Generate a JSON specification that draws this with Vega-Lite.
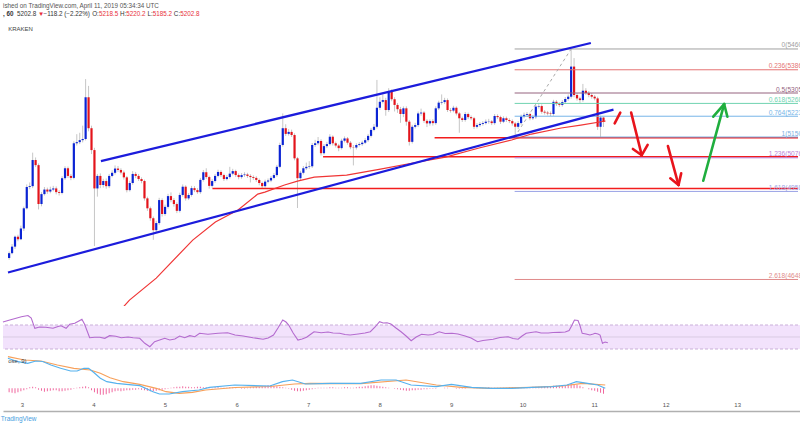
{
"$schema":"https://vega.github.io/schema/vega-lite/v6.json",
"padding":0,
"background":"white",
"config":{"font":"Liberation Sans","view":{"stroke":null}},
"title":{"text":"TradingView","orient":"bottom","anchor":"start","fontSize":6.5,"fontWeight":"normal","color":"#46a0e0","offset":5},
"datasets":{
"candles":[
{"x":18,"o":4724,"h":4747,"l":4718,"c":4741,"d":-8},
{"x":19,"o":4741,"h":4773,"l":4737,"c":4764,"d":-9},
{"x":20,"o":4764,"h":4803,"l":4756,"c":4799,"d":-10},
{"x":21,"o":4799,"h":4806,"l":4783,"c":4790,"d":-8},
{"x":22,"o":4790,"h":4838,"l":4787,"c":4828,"d":-6},
{"x":23,"o":4828,"h":4905,"l":4819,"c":4899,"d":-4},
{"x":24,"o":4899,"h":4983,"l":4895,"c":4974,"d":-2},
{"x":25,"o":4974,"h":4990,"l":4966,"c":4977,"d":2},
{"x":26,"o":4977,"h":5095,"l":4970,"c":5069,"d":3},
{"x":27,"o":5069,"h":5078,"l":5044,"c":5051,"d":2},
{"x":28,"o":5051,"h":5057,"l":4895,"c":4914,"d":-3},
{"x":29,"o":4914,"h":4956,"l":4906,"c":4949,"d":-5},
{"x":30,"o":4949,"h":4974,"l":4944,"c":4965,"d":-7},
{"x":31,"o":4965,"h":4972,"l":4950,"c":4958,"d":-6},
{"x":32,"o":4958,"h":4975,"l":4952,"c":4965,"d":-5},
{"x":33,"o":4965,"h":4978,"l":4959,"c":4969,"d":-4},
{"x":34,"o":4969,"h":4976,"l":4948,"c":4956,"d":-4},
{"x":35,"o":4956,"h":4963,"l":4944,"c":4953,"d":-6},
{"x":36,"o":4953,"h":5012,"l":4948,"c":5005,"d":-6},
{"x":37,"o":5005,"h":5047,"l":4999,"c":5040,"d":-5},
{"x":38,"o":5040,"h":5046,"l":5006,"c":5013,"d":-4},
{"x":39,"o":5013,"h":5020,"l":4998,"c":5006,"d":-3},
{"x":40,"o":5006,"h":5135,"l":5001,"c":5128,"d":-1},
{"x":41,"o":5128,"h":5160,"l":5120,"c":5132,"d":1},
{"x":42,"o":5132,"h":5165,"l":5125,"c":5139,"d":2},
{"x":43,"o":5139,"h":5190,"l":5131,"c":5143,"d":3},
{"x":44,"o":5143,"h":5354,"l":5138,"c":5290,"d":4},
{"x":45,"o":5290,"h":5330,"l":5170,"c":5181,"d":2},
{"x":46,"o":5181,"h":5190,"l":5090,"c":5104,"d":-4},
{"x":47,"o":5104,"h":5112,"l":4766,"c":4969,"d":-8},
{"x":48,"o":4969,"h":5020,"l":4940,"c":5013,"d":-11},
{"x":49,"o":5013,"h":5022,"l":4970,"c":4981,"d":-13},
{"x":50,"o":4981,"h":5003,"l":4972,"c":4995,"d":-13},
{"x":51,"o":4995,"h":5004,"l":4968,"c":4977,"d":-12},
{"x":52,"o":4977,"h":5020,"l":4970,"c":5013,"d":-10},
{"x":53,"o":5013,"h":5033,"l":5008,"c":5024,"d":-8},
{"x":54,"o":5024,"h":5050,"l":5018,"c":5039,"d":-6},
{"x":55,"o":5039,"h":5048,"l":5027,"c":5034,"d":-5},
{"x":56,"o":5034,"h":5040,"l":5018,"c":5025,"d":-6},
{"x":57,"o":5025,"h":5032,"l":5000,"c":5008,"d":-5},
{"x":58,"o":5008,"h":5013,"l":4955,"c":4963,"d":-4},
{"x":59,"o":4963,"h":4996,"l":4958,"c":4988,"d":-4},
{"x":60,"o":4988,"h":5030,"l":4982,"c":5020,"d":-3},
{"x":61,"o":5020,"h":5027,"l":5005,"c":5013,"d":-3},
{"x":62,"o":5013,"h":5020,"l":4995,"c":5002,"d":-2},
{"x":63,"o":5002,"h":5008,"l":4987,"c":4995,"d":-3},
{"x":64,"o":4995,"h":5000,"l":4926,"c":4934,"d":-4},
{"x":65,"o":4934,"h":4940,"l":4890,"c":4899,"d":-5},
{"x":66,"o":4899,"h":4905,"l":4855,"c":4864,"d":-6},
{"x":67,"o":4864,"h":4870,"l":4788,"c":4822,"d":-6},
{"x":68,"o":4822,"h":4855,"l":4812,"c":4847,"d":-5},
{"x":69,"o":4847,"h":4936,"l":4840,"c":4928,"d":-4},
{"x":70,"o":4928,"h":4934,"l":4870,"c":4879,"d":-3},
{"x":71,"o":4879,"h":4912,"l":4873,"c":4904,"d":-2},
{"x":72,"o":4904,"h":4950,"l":4898,"c":4942,"d":-1},
{"x":73,"o":4942,"h":4955,"l":4920,"c":4928,"d":1},
{"x":74,"o":4928,"h":4935,"l":4905,"c":4914,"d":2},
{"x":75,"o":4914,"h":4920,"l":4882,"c":4890,"d":3},
{"x":76,"o":4890,"h":4954,"l":4884,"c":4946,"d":3},
{"x":77,"o":4946,"h":4983,"l":4940,"c":4975,"d":4},
{"x":78,"o":4975,"h":4980,"l":4926,"c":4934,"d":3},
{"x":79,"o":4934,"h":4953,"l":4928,"c":4946,"d":3},
{"x":80,"o":4946,"h":4978,"l":4940,"c":4970,"d":2},
{"x":81,"o":4970,"h":4977,"l":4956,"c":4963,"d":2},
{"x":82,"o":4963,"h":4970,"l":4950,"c":4956,"d":3},
{"x":83,"o":4956,"h":5006,"l":4950,"c":4999,"d":3},
{"x":84,"o":4999,"h":5034,"l":4993,"c":5026,"d":2},
{"x":85,"o":5026,"h":5040,"l":5002,"c":5009,"d":2},
{"x":86,"o":5009,"h":5014,"l":4968,"c":4978,"d":1},
{"x":87,"o":4978,"h":5002,"l":4972,"c":4995,"d":1},
{"x":88,"o":4995,"h":5020,"l":4989,"c":5013,"d":2},
{"x":89,"o":5013,"h":5035,"l":5008,"c":5027,"d":2},
{"x":90,"o":5027,"h":5033,"l":5009,"c":5016,"d":1},
{"x":91,"o":5016,"h":5021,"l":4995,"c":5002,"d":1},
{"x":92,"o":5002,"h":5016,"l":4997,"c":5009,"d":1},
{"x":93,"o":5009,"h":5045,"l":5003,"c":5021,"d":2},
{"x":94,"o":5021,"h":5038,"l":5015,"c":5030,"d":2},
{"x":95,"o":5030,"h":5035,"l":5009,"c":5016,"d":1},
{"x":96,"o":5016,"h":5022,"l":5001,"c":5009,"d":0},
{"x":97,"o":5009,"h":5023,"l":5003,"c":5016,"d":-1},
{"x":98,"o":5016,"h":5026,"l":5010,"c":5018,"d":-1},
{"x":99,"o":5018,"h":5024,"l":5006,"c":5013,"d":1},
{"x":100,"o":5013,"h":5019,"l":4990,"c":5009,"d":2},
{"x":101,"o":5009,"h":5015,"l":4999,"c":5006,"d":2},
{"x":102,"o":5006,"h":5012,"l":4992,"c":4999,"d":3},
{"x":103,"o":4999,"h":5004,"l":4980,"c":4988,"d":3},
{"x":104,"o":4988,"h":4993,"l":4969,"c":4977,"d":4},
{"x":105,"o":4977,"h":5000,"l":4972,"c":4993,"d":5},
{"x":106,"o":4993,"h":5004,"l":4987,"c":4997,"d":6},
{"x":107,"o":4997,"h":5013,"l":4991,"c":5006,"d":6},
{"x":108,"o":5006,"h":5023,"l":5001,"c":5016,"d":5},
{"x":109,"o":5016,"h":5052,"l":5010,"c":5045,"d":4},
{"x":110,"o":5045,"h":5130,"l":5040,"c":5122,"d":3},
{"x":111,"o":5122,"h":5233,"l":5116,"c":5181,"d":2},
{"x":112,"o":5181,"h":5195,"l":5154,"c":5161,"d":1},
{"x":113,"o":5161,"h":5178,"l":5155,"c":5168,"d":-1},
{"x":114,"o":5168,"h":5176,"l":5150,"c":5157,"d":-3},
{"x":115,"o":5157,"h":5163,"l":5068,"c":5075,"d":-5},
{"x":116,"o":5075,"h":5080,"l":4900,"c":5005,"d":-6},
{"x":117,"o":5005,"h":5031,"l":4998,"c":5024,"d":-6},
{"x":118,"o":5024,"h":5048,"l":5018,"c":5040,"d":-5},
{"x":119,"o":5040,"h":5060,"l":5034,"c":5045,"d":-4},
{"x":120,"o":5045,"h":5065,"l":5038,"c":5047,"d":-3},
{"x":121,"o":5047,"h":5129,"l":5041,"c":5122,"d":-2},
{"x":122,"o":5122,"h":5140,"l":5115,"c":5128,"d":-1},
{"x":123,"o":5128,"h":5150,"l":5121,"c":5136,"d":1},
{"x":124,"o":5136,"h":5142,"l":5085,"c":5093,"d":1},
{"x":125,"o":5093,"h":5125,"l":5088,"c":5118,"d":1},
{"x":126,"o":5118,"h":5133,"l":5111,"c":5125,"d":1},
{"x":127,"o":5125,"h":5160,"l":5120,"c":5151,"d":2},
{"x":128,"o":5151,"h":5156,"l":5120,"c":5128,"d":2},
{"x":129,"o":5128,"h":5134,"l":5113,"c":5120,"d":1},
{"x":130,"o":5120,"h":5126,"l":5100,"c":5111,"d":1},
{"x":131,"o":5111,"h":5144,"l":5106,"c":5137,"d":1},
{"x":132,"o":5137,"h":5152,"l":5131,"c":5145,"d":2},
{"x":133,"o":5145,"h":5150,"l":5123,"c":5130,"d":2},
{"x":134,"o":5130,"h":5136,"l":5107,"c":5114,"d":1},
{"x":135,"o":5114,"h":5122,"l":5050,"c":5113,"d":1},
{"x":136,"o":5113,"h":5128,"l":5106,"c":5122,"d":2},
{"x":137,"o":5122,"h":5132,"l":5117,"c":5125,"d":3},
{"x":138,"o":5125,"h":5137,"l":5119,"c":5130,"d":3},
{"x":139,"o":5130,"h":5146,"l":5125,"c":5139,"d":4},
{"x":140,"o":5139,"h":5161,"l":5133,"c":5154,"d":5},
{"x":141,"o":5154,"h":5182,"l":5148,"c":5175,"d":6},
{"x":142,"o":5175,"h":5196,"l":5170,"c":5186,"d":6},
{"x":143,"o":5186,"h":5351,"l":5180,"c":5253,"d":5},
{"x":144,"o":5253,"h":5290,"l":5245,"c":5274,"d":4},
{"x":145,"o":5274,"h":5300,"l":5268,"c":5280,"d":3},
{"x":146,"o":5280,"h":5288,"l":5225,"c":5245,"d":2},
{"x":147,"o":5245,"h":5322,"l":5238,"c":5312,"d":1},
{"x":148,"o":5312,"h":5318,"l":5276,"c":5283,"d":0},
{"x":149,"o":5283,"h":5290,"l":5240,"c":5263,"d":-1},
{"x":150,"o":5263,"h":5270,"l":5235,"c":5248,"d":-2},
{"x":151,"o":5248,"h":5256,"l":5200,"c":5231,"d":-3},
{"x":152,"o":5231,"h":5258,"l":5220,"c":5251,"d":-4},
{"x":153,"o":5251,"h":5258,"l":5190,"c":5204,"d":-5},
{"x":154,"o":5204,"h":5210,"l":5120,"c":5133,"d":-5},
{"x":155,"o":5133,"h":5193,"l":5127,"c":5186,"d":-4},
{"x":156,"o":5186,"h":5200,"l":5180,"c":5192,"d":-4},
{"x":157,"o":5192,"h":5240,"l":5185,"c":5233,"d":-3},
{"x":158,"o":5233,"h":5250,"l":5225,"c":5236,"d":-3},
{"x":159,"o":5236,"h":5241,"l":5200,"c":5207,"d":-2},
{"x":160,"o":5207,"h":5213,"l":5185,"c":5198,"d":-2},
{"x":161,"o":5198,"h":5212,"l":5190,"c":5206,"d":-1},
{"x":162,"o":5206,"h":5213,"l":5190,"c":5199,"d":-1},
{"x":163,"o":5199,"h":5258,"l":5193,"c":5251,"d":-1},
{"x":164,"o":5251,"h":5278,"l":5245,"c":5271,"d":0},
{"x":165,"o":5271,"h":5300,"l":5264,"c":5273,"d":0},
{"x":166,"o":5273,"h":5288,"l":5266,"c":5280,"d":1},
{"x":167,"o":5280,"h":5286,"l":5238,"c":5245,"d":1},
{"x":168,"o":5245,"h":5252,"l":5236,"c":5243,"d":0},
{"x":169,"o":5243,"h":5260,"l":5237,"c":5253,"d":0},
{"x":170,"o":5253,"h":5258,"l":5226,"c":5233,"d":-1},
{"x":171,"o":5233,"h":5238,"l":5165,"c":5216,"d":-1},
{"x":172,"o":5216,"h":5222,"l":5203,"c":5210,"d":-1},
{"x":173,"o":5210,"h":5238,"l":5204,"c":5231,"d":-1},
{"x":174,"o":5231,"h":5236,"l":5213,"c":5220,"d":0},
{"x":175,"o":5220,"h":5226,"l":5209,"c":5216,"d":0},
{"x":176,"o":5216,"h":5221,"l":5178,"c":5186,"d":1},
{"x":177,"o":5186,"h":5199,"l":5180,"c":5192,"d":1},
{"x":178,"o":5192,"h":5203,"l":5186,"c":5196,"d":1},
{"x":179,"o":5196,"h":5206,"l":5190,"c":5199,"d":1},
{"x":180,"o":5199,"h":5212,"l":5194,"c":5204,"d":1},
{"x":181,"o":5204,"h":5214,"l":5197,"c":5205,"d":2},
{"x":182,"o":5205,"h":5210,"l":5192,"c":5199,"d":1},
{"x":183,"o":5199,"h":5231,"l":5193,"c":5224,"d":1},
{"x":184,"o":5224,"h":5230,"l":5213,"c":5220,"d":1},
{"x":185,"o":5220,"h":5225,"l":5196,"c":5204,"d":1},
{"x":186,"o":5204,"h":5223,"l":5199,"c":5216,"d":1},
{"x":187,"o":5216,"h":5222,"l":5203,"c":5210,"d":1},
{"x":188,"o":5210,"h":5216,"l":5199,"c":5206,"d":2},
{"x":189,"o":5206,"h":5212,"l":5190,"c":5198,"d":2},
{"x":190,"o":5198,"h":5203,"l":5150,"c":5186,"d":2},
{"x":191,"o":5186,"h":5206,"l":5178,"c":5199,"d":1},
{"x":192,"o":5199,"h":5229,"l":5193,"c":5222,"d":1},
{"x":193,"o":5222,"h":5236,"l":5216,"c":5228,"d":1},
{"x":194,"o":5228,"h":5238,"l":5222,"c":5231,"d":2},
{"x":195,"o":5231,"h":5236,"l":5209,"c":5216,"d":2},
{"x":196,"o":5216,"h":5227,"l":5210,"c":5220,"d":3},
{"x":197,"o":5220,"h":5264,"l":5214,"c":5257,"d":3},
{"x":198,"o":5257,"h":5266,"l":5250,"c":5259,"d":3},
{"x":199,"o":5259,"h":5265,"l":5232,"c":5239,"d":3},
{"x":200,"o":5239,"h":5245,"l":5229,"c":5236,"d":4},
{"x":201,"o":5236,"h":5242,"l":5226,"c":5233,"d":4},
{"x":202,"o":5233,"h":5240,"l":5224,"c":5231,"d":4},
{"x":203,"o":5231,"h":5281,"l":5225,"c":5274,"d":5},
{"x":204,"o":5274,"h":5280,"l":5259,"c":5266,"d":5},
{"x":205,"o":5266,"h":5272,"l":5256,"c":5263,"d":5},
{"x":206,"o":5263,"h":5280,"l":5257,"c":5273,"d":6},
{"x":207,"o":5273,"h":5291,"l":5267,"c":5284,"d":6},
{"x":208,"o":5284,"h":5300,"l":5278,"c":5292,"d":8},
{"x":209,"o":5292,"h":5460,"l":5285,"c":5398,"d":9},
{"x":210,"o":5398,"h":5428,"l":5290,"c":5298,"d":8},
{"x":211,"o":5298,"h":5305,"l":5278,"c":5286,"d":7},
{"x":212,"o":5286,"h":5292,"l":5270,"c":5280,"d":5},
{"x":213,"o":5280,"h":5337,"l":5274,"c":5313,"d":2},
{"x":214,"o":5313,"h":5322,"l":5298,"c":5305,"d":0},
{"x":215,"o":5305,"h":5312,"l":5290,"c":5298,"d":-2},
{"x":216,"o":5298,"h":5305,"l":5285,"c":5292,"d":-4},
{"x":217,"o":5292,"h":5298,"l":5279,"c":5286,"d":-5},
{"x":218,"o":5286,"h":5292,"l":5175,"c":5186,"d":-7},
{"x":219,"o":5186,"h":5225,"l":5150,"c":5218.5,"d":-9},
{"x":220,"o":5218.5,"h":5220.2,"l":5185.2,"c":5202.8,"d":-11}
],
"rsi":[
{"x":17.6,"v":75},{"x":19.9,"v":78.3},{"x":21.7,"v":80.8},{"x":23.8,"v":83.8},{"x":26.0,"v":85.8},{"x":27.1,"v":81.7},{"x":28.3,"v":64.5},{"x":29.9,"v":66.7},{"x":32.0,"v":66.2},{"x":34.4,"v":64.5},{"x":36.1,"v":67.5},{"x":37.1,"v":68.8},{"x":38.8,"v":64.5},{"x":40.0,"v":71.2},{"x":41.7,"v":72.8},{"x":43.4,"v":77.5},{"x":44.1,"v":79.5},{"x":45.0,"v":71.2},{"x":46.7,"v":48.8},{"x":48.4,"v":49.5},{"x":50.1,"v":49.5},{"x":51.8,"v":47.8},{"x":53.4,"v":52.2},{"x":55.5,"v":51.2},{"x":57.3,"v":48.8},{"x":59.6,"v":50},{"x":61.3,"v":48.8},{"x":63.5,"v":47.8},{"x":65.2,"v":39.5},{"x":66.9,"v":33.8},{"x":68.5,"v":42.2},{"x":70.2,"v":45},{"x":71.9,"v":47.8},{"x":73.6,"v":45},{"x":75.3,"v":46.7},{"x":76.9,"v":51.7},{"x":78.6,"v":48.8},{"x":80.3,"v":52.2},{"x":82.0,"v":50.5},{"x":83.6,"v":56.2},{"x":86.4,"v":54.5},{"x":89.8,"v":56.2},{"x":93.0,"v":57.2},{"x":95.5,"v":53.3},{"x":98.2,"v":51.7},{"x":101.5,"v":48.8},{"x":104.9,"v":46.2},{"x":106.6,"v":48.3},{"x":108.4,"v":53.3},{"x":109.9,"v":65},{"x":111.5,"v":78.3},{"x":112.6,"v":75},{"x":113.5,"v":70},{"x":115.0,"v":56.7},{"x":116.6,"v":45},{"x":118.0,"v":46.7},{"x":119.5,"v":49.5},{"x":121.0,"v":55},{"x":122.0,"v":58.8},{"x":124.4,"v":57.2},{"x":126.7,"v":58.3},{"x":128.4,"v":56.7},{"x":130.6,"v":56.2},{"x":132.4,"v":54.2},{"x":134.1,"v":53.3},{"x":136.8,"v":55},{"x":139.1,"v":56.7},{"x":140.9,"v":58.8},{"x":142.5,"v":66.7},{"x":144.0,"v":75.5},{"x":145.2,"v":73.3},{"x":146.5,"v":73.8},{"x":147.8,"v":71.7},{"x":149.5,"v":65},{"x":151.2,"v":58.8},{"x":152.9,"v":51.7},{"x":154.6,"v":43.8},{"x":156.3,"v":50},{"x":158.1,"v":54.5},{"x":160.3,"v":53.3},{"x":161.9,"v":54.2},{"x":164.0,"v":58.8},{"x":166.0,"v":55.8},{"x":168.3,"v":56.2},{"x":170.3,"v":55},{"x":172.7,"v":51.7},{"x":174.7,"v":48.3},{"x":176.9,"v":42.2},{"x":178.7,"v":44.2},{"x":182.1,"v":46.2},{"x":184.4,"v":49.2},{"x":187.1,"v":50.5},{"x":188.8,"v":47.5},{"x":190.5,"v":46.2},{"x":191.8,"v":51.7},{"x":193.2,"v":56.2},{"x":194.8,"v":57.5},{"x":196.5,"v":58.8},{"x":198.2,"v":56.7},{"x":200.6,"v":56.7},{"x":202.2,"v":57.5},{"x":204.3,"v":57.8},{"x":206.3,"v":58.3},{"x":207.6,"v":60.8},{"x":208.6,"v":70},{"x":209.4,"v":78.3},{"x":210.6,"v":77.5},{"x":211.3,"v":68.3},{"x":212.0,"v":56.2},{"x":213.3,"v":55},{"x":214.6,"v":53.3},{"x":215.7,"v":55},{"x":216.3,"v":56.2},{"x":217.3,"v":55},{"x":218.0,"v":53.3},{"x":218.8,"v":39.5},{"x":219.7,"v":41.7},{"x":220.6,"v":40.5}
],
"macd":[
{"x":17.6,"m":60},{"x":21.0,"m":53.2},{"x":24.3,"m":50},{"x":27.1,"m":54.6},{"x":29.4,"m":53.6},{"x":32.2,"m":46.6},{"x":35.5,"m":40},{"x":38.9,"m":34.6},{"x":41.1,"m":34.6},{"x":43.4,"m":40},{"x":45.0,"m":40},{"x":46.7,"m":32},{"x":49.0,"m":20},{"x":51.2,"m":13.2},{"x":54.5,"m":10},{"x":57.9,"m":8},{"x":62.4,"m":5.2},{"x":66.9,"m":-6.8},{"x":69.1,"m":-11.4},{"x":72.4,"m":-11.4},{"x":76.9,"m":-6.8},{"x":82.5,"m":-3.4},{"x":86.1,"m":2},{"x":94.7,"m":6.6},{"x":106.6,"m":4.6},{"x":110.9,"m":13.2},{"x":114.3,"m":16.6},{"x":118.7,"m":8.6},{"x":127.2,"m":10},{"x":137.5,"m":10},{"x":144.4,"m":16.6},{"x":149.5,"m":16.6},{"x":154.6,"m":6.6},{"x":163.2,"m":3.2},{"x":168.3,"m":8},{"x":175.2,"m":2},{"x":182.1,"m":0},{"x":188.8,"m":0},{"x":195.7,"m":2},{"x":202.6,"m":3.2},{"x":207.6,"m":6.6},{"x":210.8,"m":13.2},{"x":214.6,"m":10},{"x":218.0,"m":6.6},{"x":220.6,"m":0}
],
"signal":[
{"x":17.6,"s":63.2},{"x":23.2,"s":56.6},{"x":28.8,"s":54.6},{"x":34.4,"s":46.6},{"x":40.0,"s":40},{"x":45.6,"s":36.6},{"x":49.0,"s":30},{"x":52.3,"s":21.2},{"x":56.8,"s":13.2},{"x":62.4,"s":8},{"x":68.0,"s":0},{"x":71.3,"s":-6.8},{"x":75.8,"s":-10},{"x":80.3,"s":-8},{"x":84.8,"s":-3.4},{"x":94.8,"s":1.6},{"x":106.6,"s":3.6},{"x":115.0,"s":8.6},{"x":120.3,"s":10},{"x":137.5,"s":9.2},{"x":152.9,"s":16.6},{"x":163.2,"s":6.6},{"x":171.7,"s":2},{"x":182.1,"s":0},{"x":195.5,"s":2},{"x":205.9,"s":4.6},{"x":212.9,"s":10},{"x":220.6,"s":6.6}
]
},
"vconcat":[
{
"width":800,"height":22,
"data":{"values":[
{"x":17.62,"line":1,"t":"ished on TradingView.com, April 11, 2019 05:34:34 UTC","col":"g","b":0},
{"x":17.62,"line":2,"t":", 60","col":"k","b":1},
{"x":22.32,"line":2,"t":"5202.8","col":"k","b":0},
{"x":29.37,"line":2,"t":"▼","col":"r","b":0},
{"x":31.21,"line":2,"t":"−118.2 (−2.22%)","col":"k","b":0},
{"x":47.56,"line":2,"t":"O:","col":"k","b":0},
{"x":49.81,"line":2,"t":"5218.5","col":"r","b":0},
{"x":56.89,"line":2,"t":"H:","col":"k","b":0},
{"x":59.01,"line":2,"t":"5220.2","col":"r","b":0},
{"x":66.09,"line":2,"t":"L:","col":"k","b":0},
{"x":67.87,"line":2,"t":"5185.2","col":"r","b":0},
{"x":74.95,"line":2,"t":"C:","col":"k","b":0},
{"x":77.07,"line":2,"t":"5202.8","col":"r","b":0}
]},
"layer":[
{"transform":[{"filter":"datum.b == 0"}],
"mark":{"type":"text","align":"left","baseline":"middle","fontSize":6.3},
"encoding":{
"x":{"field":"x","type":"quantitative","scale":{"domain":[17.62,286.1]},"axis":{"labels":false,"ticks":false,"grid":false,"domain":true,"domainColor":"#9a9a9a","domainWidth":1.5,"title":null}},
"y":{"field":"line","type":"quantitative","scale":{"domain":[0.25,3],"reverse":true},"axis":null},
"text":{"field":"t"},
"color":{"field":"col","type":"nominal","scale":{"domain":["g","k","r"],"range":["#555555","#333333","#e8303a"]},"legend":null}}},
{"transform":[{"filter":"datum.b == 1"}],
"mark":{"type":"text","align":"left","baseline":"middle","fontSize":6.3,"fontWeight":"bold"},
"encoding":{
"x":{"field":"x","type":"quantitative","scale":{"domain":[17.62,286.1]},"axis":null},
"y":{"field":"line","type":"quantitative","scale":{"domain":[0.25,3],"reverse":true},"axis":null},
"text":{"field":"t"},
"color":{"field":"col","type":"nominal","legend":null}}}
]
},
{
"width":800,"height":284,
"layer":[
{"data":{"name":"candles"},
"mark":{"type":"rule","color":"#c6c6c6","strokeWidth":1},
"encoding":{
"x":{"field":"x","type":"quantitative","scale":{"domain":[17.62,286.1]},"axis":{"values":[24,48,72,96,120,144,168,192,216,240,264],"labels":false,"ticks":false,"domain":true,"domainColor":"#a0a0a0","domainWidth":1.5,"grid":true,"gridColor":"#e6e6e6","title":null}},
"y":{"field":"l","type":"quantitative","scale":{"domain":[4555,5555]},"axis":{"orient":"right","values":[4604,4653,4702,4752,4801,4850,4900,4949,4998,5048,5097,5146,5196,5245,5294,5344,5393,5442,5491,5540],"labels":false,"ticks":false,"domain":false,"grid":true,"gridColor":"#ebebeb","title":null}},
"y2":{"field":"h"}}},
{"data":{"name":"candles"},
"mark":{"type":"bar","size":2.2},
"encoding":{
"x":{"field":"x","type":"quantitative","scale":{"domain":[17.62,286.1]},"axis":null},
"y":{"field":"o","type":"quantitative","scale":{"domain":[4555,5555]},"axis":null},
"y2":{"field":"c"},
"color":{"condition":{"test":"datum.c >= datum.o","value":"#0b24d4"},"value":"#e3141b"}}},
{"data":{"values":[{"x":87.1,"x2":286.1,"y":4969},{"x":124.7,"x2":286.1,"y":5080.6},{"x":162.6,"x2":286.1,"y":5147}]},
"mark":{"type":"rule","color":"#f21d1d","strokeWidth":1.5,"clip":true},
"encoding":{
"x":{"field":"x","type":"quantitative","scale":{"domain":[17.62,286.1]},"axis":null},
"x2":{"field":"x2"},
"y":{"field":"y","type":"quantitative","scale":{"domain":[4555,5555]},"axis":null}}},
{"data":{"values":[
{"x":189.8,"x2":286.1,"lx":290.1,"y":5460,"lv":"0","t":"0(5460.0)"},
{"x":189.8,"x2":286.1,"lx":290.1,"y":5386.8,"lv":"0.236","t":"0.236(5386.8)"},
{"x":189.8,"x2":286.1,"lx":290.1,"y":5305,"lv":"0.5","t":"0.5(5305.0)"},
{"x":189.8,"x2":286.1,"lx":290.1,"y":5268.4,"lv":"0.618","t":"0.618(5268.4)"},
{"x":189.8,"x2":286.1,"lx":290.1,"y":5223.2,"lv":"0.764","t":"0.764(5223.2)"},
{"x":189.8,"x2":286.1,"lx":290.1,"y":5150,"lv":"1","t":"1(5150.0)"},
{"x":189.8,"x2":286.1,"lx":290.1,"y":5076.8,"lv":"1.236","t":"1.236(5076.8)"},
{"x":189.8,"x2":286.1,"lx":290.1,"y":4958.4,"lv":"1.618","t":"1.618(4958.4)"},
{"x":189.8,"x2":286.1,"lx":290.1,"y":4648.4,"lv":"2.618","t":"2.618(4648.4)"}
]},
"layer":[
{"mark":{"type":"rule","strokeWidth":1,"clip":true},
"encoding":{
"x":{"field":"x","type":"quantitative","scale":{"domain":[17.62,286.1]},"axis":null},
"x2":{"field":"x2"},
"y":{"field":"y","type":"quantitative","scale":{"domain":[4555,5555]},"axis":null},
"color":{"field":"lv","type":"nominal","scale":{"domain":["0","0.236","0.5","0.618","0.764","1","1.236","1.618","2.618"],"range":["#a0a0a0","#e57373","#95637f","#6fd3b0","#76b5e8","#7aaee0","#b983d9","#9aa3e6","#e08a8a"]},"legend":null}}},
{"mark":{"type":"text","align":"right","baseline":"bottom","dy":-0.5,"fontSize":6.6,"clip":true},
"encoding":{
"x":{"field":"lx","type":"quantitative","scale":{"domain":[17.62,286.1]},"axis":null},
"y":{"field":"y","type":"quantitative","scale":{"domain":[4555,5555]},"axis":null},
"text":{"field":"t"},
"color":{"field":"lv","type":"nominal","legend":null}}}
]},
{"data":{"values":[{"x":189.8,"y":5150,"x2":209,"y2":5460}]},
"mark":{"type":"rule","color":"#aaaaaa","strokeWidth":1,"strokeDash":[3,3]},
"encoding":{
"x":{"field":"x","type":"quantitative","scale":{"domain":[17.62,286.1]},"axis":null},
"x2":{"field":"x2"},
"y":{"field":"y","type":"quantitative","scale":{"domain":[4555,5555]},"axis":null},
"y2":{"field":"y2"}}},
{"data":{"values":[
{"x":55.2,"y":4533},{"x":58.9,"y":4575.7},{"x":68.0,"y":4653.2},{"x":80.4,"y":4787.1},{"x":88.1,"y":4850.5},{"x":95.8,"y":4892.8},{"x":102.5,"y":4949.1},{"x":104.9,"y":4956.2},{"x":111.6,"y":4980.9},{"x":116.0,"y":4994.9},{"x":121.7,"y":5009},{"x":132.7,"y":5016.1},{"x":144.2,"y":5037.2},{"x":155.2,"y":5058.4},{"x":166.3,"y":5079.5},{"x":177.7,"y":5111.2},{"x":188.8,"y":5139.4},{"x":195.5,"y":5160.5},{"x":205.6,"y":5181.7},{"x":212.3,"y":5192.2},{"x":220.7,"y":5206.3}
]},
"mark":{"type":"line","color":"#f03535","strokeWidth":1.2,"clip":true},
"encoding":{
"x":{"field":"x","type":"quantitative","scale":{"domain":[17.62,286.1]},"axis":null},
"y":{"field":"y","type":"quantitative","scale":{"domain":[4555,5555]},"axis":null}}},
{"data":{"values":[{"x":17.62,"y":4673,"x2":223.4,"y2":5246.5},{"x":49.2,"y":5065,"x2":215.7,"y2":5481}]},
"mark":{"type":"rule","color":"#1c1cdc","strokeWidth":2.2,"clip":true},
"encoding":{
"x":{"field":"x","type":"quantitative","scale":{"domain":[17.62,286.1]},"axis":null},
"x2":{"field":"x2"},
"y":{"field":"y","type":"quantitative","scale":{"domain":[4555,5555]},"axis":null},
"y2":{"field":"y2"}}},
{"data":{"values":[
{"x":223.8,"y":5198,"x2":225.7,"y2":5236,"k":"r"},
{"x":229.4,"y":5236,"x2":233.0,"y2":5086,"k":"r"},
{"x":233.0,"y":5086,"x2":230.0,"y2":5108,"k":"r"},
{"x":233.0,"y":5086,"x2":235.0,"y2":5122,"k":"r"},
{"x":241.9,"y":5118,"x2":245.5,"y2":4981,"k":"r"},
{"x":245.5,"y":4981,"x2":242.7,"y2":5004.5,"k":"r"},
{"x":245.5,"y":4981,"x2":246.4,"y2":5022,"k":"r"},
{"x":253.9,"y":4996,"x2":261.0,"y2":5266,"k":"g"},
{"x":261.0,"y":5266,"x2":257.3,"y2":5221.5,"k":"g"},
{"x":261.0,"y":5266,"x2":262.1,"y2":5221.5,"k":"g"}
]},
"mark":{"type":"rule","strokeWidth":2.6,"strokeCap":"round"},
"encoding":{
"x":{"field":"x","type":"quantitative","scale":{"domain":[17.62,286.1]},"axis":null},
"x2":{"field":"x2"},
"y":{"field":"y","type":"quantitative","scale":{"domain":[4555,5555]},"axis":null},
"y2":{"field":"y2"},
"stroke":{"field":"k","type":"nominal","scale":{"domain":["r","g"],"range":["#e8141c","#1fae3e"]},"legend":null}}},
{"data":{"values":[{"x":17.7,"y":5530,"t":"KRAKEN"}]},
"mark":{"type":"text","align":"left","baseline":"middle","fontSize":6,"color":"#444444"},
"encoding":{
"x":{"field":"x","type":"quantitative","scale":{"domain":[17.62,286.1]},"axis":null},
"y":{"field":"y","type":"quantitative","scale":{"domain":[4555,5555]},"axis":null},
"text":{"field":"t"}}}
]
},
{
"width":800,"height":46,
"layer":[
{"data":{"values":[{"x":17.62,"x2":286.1,"y":30,"y2":70}]},
"mark":{"type":"rect","color":"#ecd6fb","opacity":0.7},
"encoding":{
"x":{"field":"x","type":"quantitative","scale":{"domain":[17.62,286.1]},"axis":{"values":[24,48,72,96,120,144,168,192,216,240,264],"labels":false,"ticks":false,"domain":true,"domainColor":"#a0a0a0","domainWidth":1.5,"grid":true,"gridColor":"#e6e6e6","title":null}},
"x2":{"field":"x2"},
"y":{"field":"y","type":"quantitative","scale":{"domain":[25,101.7]},"axis":{"orient":"right","values":[76],"labels":false,"ticks":false,"domain":false,"grid":true,"gridColor":"#e6e6e6","title":null}},
"y2":{"field":"y2"}}},
{"data":{"values":[{"y":30},{"y":70}]},
"mark":{"type":"rule","color":"#c9afd9","strokeWidth":1,"strokeDash":[3,2]},
"encoding":{"y":{"field":"y","type":"quantitative","scale":{"domain":[25,101.7]},"axis":null}}},
{"data":{"values":[{"y":50}]},
"mark":{"type":"rule","color":"#d9cbe3","strokeWidth":1},
"encoding":{"y":{"field":"y","type":"quantitative","scale":{"domain":[25,101.7]},"axis":null}}},
{"data":{"name":"rsi"},
"mark":{"type":"line","color":"#b46bcf","strokeWidth":1.1},
"encoding":{
"x":{"field":"x","type":"quantitative","scale":{"domain":[17.62,286.1]},"axis":null},
"y":{"field":"v","type":"quantitative","scale":{"domain":[25,101.7]},"axis":null}}}
]
},
{
"width":800,"height":46,
"layer":[
{"data":{"name":"candles"},
"mark":{"type":"bar","size":1,"color":"#f0679e"},
"encoding":{
"x":{"field":"x","type":"quantitative","scale":{"domain":[17.62,286.1]},"axis":{"values":[24,48,72,96,120,144,168,192,216,240,264],"labels":false,"ticks":false,"domain":true,"domainColor":"#a0a0a0","domainWidth":1.5,"grid":true,"gridColor":"#e6e6e6","title":null}},
"y":{"field":"d","type":"quantitative","scale":{"domain":[-19.4,72.6]},"axis":{"orient":"right","values":[0,36.6],"labels":false,"ticks":false,"domain":false,"grid":true,"gridColor":"#e6e6e6","title":null}}}},
{"data":{"name":"signal"},
"mark":{"type":"line","color":"#f7a05a","strokeWidth":1.2},
"encoding":{
"x":{"field":"x","type":"quantitative","scale":{"domain":[17.62,286.1]},"axis":null},
"y":{"field":"s","type":"quantitative","scale":{"domain":[-19.4,72.6]},"axis":null}}},
{"data":{"name":"macd"},
"mark":{"type":"line","color":"#56b2ee","strokeWidth":1.2},
"encoding":{
"x":{"field":"x","type":"quantitative","scale":{"domain":[17.62,286.1]},"axis":null},
"y":{"field":"m","type":"quantitative","scale":{"domain":[-19.4,72.6]},"axis":null}}},
{"data":{"values":[{"x":17.7,"y":54.6,"t":"ose, 9)"}]},
"mark":{"type":"text","align":"left","baseline":"middle","fontSize":6,"color":"#444444"},
"encoding":{
"x":{"field":"x","type":"quantitative","scale":{"domain":[17.62,286.1]},"axis":null},
"y":{"field":"y","type":"quantitative","scale":{"domain":[-19.4,72.6]},"axis":null},
"text":{"field":"t"}}}
]
},
{
"width":800,"height":13,
"data":{"values":[{"x":100}]},
"mark":{"type":"point","opacity":0},
"encoding":{
"x":{"field":"x","type":"quantitative","scale":{"domain":[17.62,286.1]},"axis":{"values":[24,48,72,96,120,144,168,192,216,240,264],"labelExpr":"datum.value/24+2","labelPadding":-10,"labelFontSize":6,"labelColor":"#555555","ticks":false,"grid":false,"domain":true,"domainColor":"#b0b0b0","domainWidth":1.5,"title":null}}}
}
],
"spacing":0,
"resolve":{"scale":{"y":"independent","color":"independent"}}
}
